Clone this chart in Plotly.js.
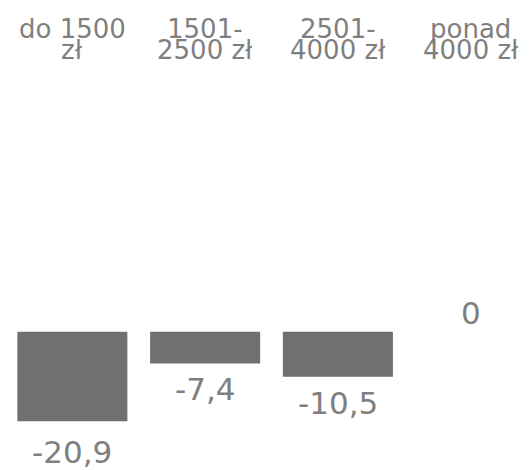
<!DOCTYPE html>
<html>
<head>
<meta charset="utf-8">
<script src="https://cdn.plot.ly/plotly-3.0.1.min.js"></script>
<style>
  html, body { margin: 0; padding: 0; overflow: hidden; background: #ffffff; }
  #chart { width: 540px; height: 470px; }
</style>
</head>
<body>
<div id="chart"></div>
<script>
// Data
const catLine1 = ['do 1500', '1501-', '2501-', 'ponad'];
const catLine2 = ['zł', '2500 zł', '4000 zł', '4000 zł'];
const categories = catLine1.map((a, i) => a + ' ' + catLine2[i]);
const values = [-20.9, -7.4, -10.5, 0];

const labelText = values.map(v => v === 0 ? '0' : v.toFixed(1).replace('.', ','));

const textColor = '#7f7f7f';
const barColor = '#707070';
const fontFamily = '"DejaVu Sans", Verdana, sans-serif';

const trace = {
  type: 'bar',
  x: categories,
  y: values,
  marker: { color: barColor },
  hoverinfo: 'none'
};

const annotations = [];
categories.forEach((c, i) => {
  annotations.push({
    x: c, xref: 'x', y: 1 - 29 / 470, yref: 'paper',
    text: catLine1[i], showarrow: false, xanchor: 'center', yanchor: 'middle',
    borderpad: 0,
    font: { family: fontFamily, size: 26, color: textColor }
  });
  annotations.push({
    x: c, xref: 'x', y: 1 - 50 / 470, yref: 'paper',
    text: catLine2[i], showarrow: false, xanchor: 'center', yanchor: 'middle',
    borderpad: 0,
    font: { family: fontFamily, size: 26, color: textColor }
  });
});

// value labels, placed on a label axis that shares the bars' zero
values.forEach((v, i) => {
  const neg = v < 0;
  annotations.push({
    x: categories[i], xref: 'x', y: v, yref: 'y2',
    text: labelText[i], showarrow: false, xanchor: 'center',
    yanchor: neg ? 'top' : 'bottom', yshift: neg ? -3 : 0,
    borderpad: 0,
    font: { family: fontFamily, size: 31, color: textColor }
  });
});

const layout = {
  width: 540,
  height: 470,
  margin: { l: 6, r: 3, t: 0, b: 0, pad: 0 },
  paper_bgcolor: '#ffffff',
  plot_bgcolor: '#ffffff',
  showlegend: false,
  bargap: 0.171,
  xaxis: {
    type: 'category',
    showgrid: false, zeroline: false, showline: false,
    showticklabels: false, ticks: '',
    range: [-0.5, 3.5]
  },
  yaxis: {
    showgrid: false, zeroline: false, showline: false,
    showticklabels: false, ticks: '',
    range: [-32.24, 77.32]
  },
  yaxis2: {
    overlaying: 'y',
    showgrid: false, zeroline: false, showline: false,
    showticklabels: false, ticks: '',
    range: [-29.36, 70.64]
  },
  annotations: annotations,
  font: { family: fontFamily, color: textColor }
};

Plotly.newPlot('chart', [trace], layout, { displayModeBar: false, staticPlot: true });
</script>
</body>
</html>
